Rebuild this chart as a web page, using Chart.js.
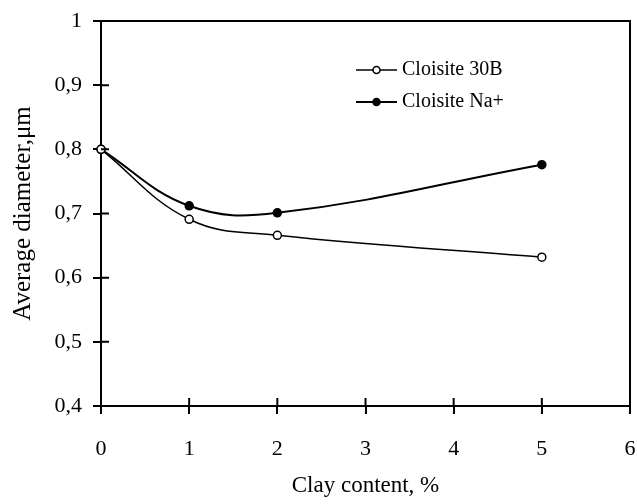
<!DOCTYPE html>
<html>
<head>
<meta charset="utf-8">
<script src="https://cdn.jsdelivr.net/npm/chart.js@4.4.1/dist/chart.umd.min.js"></script>
<style>
  html, body { margin: 0; padding: 0; background: #fff; }
  #wrap { width: 637px; height: 504px; }
</style>
</head>
<body>
<div id="wrap"><canvas id="chart" width="637" height="504"></canvas></div>
<script>
// clay content (%) and average particle diameter (um)
const clayContent = [0, 1, 2, 5];
const cloisite30B = [0.80, 0.691, 0.666, 0.632];
const cloisiteNa = [0.80, 0.712, 0.701, 0.776];
const seriesNames = ['Cloisite 30B', 'Cloisite Na+'];
const xTitle = 'Clay content, %';
const yTitle = 'Average diameter,\u03bcm';

const serif = '"Liberation Serif", "Times New Roman", serif';

function pts(ys) {
  return clayContent.map((x, i) => ({x: x, y: ys[i]}));
}

// comma decimal like the original axis
function commaFmt(v) {
  if (Math.abs(v - Math.round(v)) < 1e-9) return String(Math.round(v));
  return v.toFixed(1).replace('.', ',');
}

// frame on top/right + ticks poking into the plot
const framePlugin = {
  id: 'frame',
  afterDraw(chart) {
    const {ctx, chartArea: a, scales} = chart;
    ctx.save();
    ctx.strokeStyle = '#000';
    ctx.lineWidth = 2;
    ctx.beginPath();
    ctx.moveTo(a.left, a.top); ctx.lineTo(a.right, a.top);
    ctx.lineTo(a.right, a.bottom);
    scales.y.ticks.forEach(t => {
      const py = scales.y.getPixelForValue(t.value);
      ctx.moveTo(a.left, py); ctx.lineTo(a.left + 8, py);
    });
    scales.x.ticks.forEach(t => {
      const px = scales.x.getPixelForValue(t.value);
      ctx.moveTo(px, a.bottom); ctx.lineTo(px, a.bottom - 8);
    });
    ctx.stroke();
    ctx.restore();
  }
};

// legend: short line with the marker in the middle, text to the right
const legendPlugin = {
  id: 'lineLegend',
  afterDraw(chart) {
    const {ctx} = chart;
    const x0 = 356, x1 = 397, rows = [70, 102];
    ctx.save();
    ctx.font = '20px ' + serif;
    ctx.textBaseline = 'middle';
    ctx.fillStyle = '#000';
    chart.data.datasets.forEach((ds, i) => {
      const y = rows[i];
      ctx.strokeStyle = '#000';
      ctx.lineWidth = ds.borderWidth;
      ctx.beginPath(); ctx.moveTo(x0, y); ctx.lineTo(x1, y); ctx.stroke();
      ctx.beginPath();
      ctx.arc((x0 + x1) / 2, y, ds.pointRadius - 0.5, 0, Math.PI * 2);
      ctx.fillStyle = ds.pointBackgroundColor;
      ctx.fill();
      ctx.lineWidth = 1.5;
      ctx.stroke();
      ctx.fillStyle = '#000';
      ctx.fillText(ds.label, x1 + 5, y);
    });
    ctx.restore();
  }
};

new Chart(document.getElementById('chart'), {
  type: 'line',
  data: {
    datasets: [
      {
        label: seriesNames[0], data: pts(cloisite30B),
        borderColor: '#000', borderWidth: 1.5, tension: 0.4,
        pointRadius: 4, pointBackgroundColor: '#fff', pointBorderColor: '#000', pointBorderWidth: 1.5,
        clip: false
      },
      {
        label: seriesNames[1], data: pts(cloisiteNa),
        borderColor: '#000', borderWidth: 2, tension: 0.4,
        pointRadius: 4, pointBackgroundColor: '#000', pointBorderColor: '#000', pointBorderWidth: 1.5,
        clip: false
      }
    ]
  },
  options: {
    responsive: false,
    animation: false,
    layout: { padding: { top: 21, right: 7, left: 0, bottom: 0 } },
    plugins: { legend: { display: false }, tooltip: { enabled: false } },
    scales: {
      x: {
        type: 'linear', min: 0, max: 6,
        afterFit: s => { s.height = 98; s.paddingLeft = 0; s.paddingRight = 0; },
        ticks: { stepSize: 1, padding: 22, color: '#000', font: { family: serif, size: 22 } },
        grid: { drawOnChartArea: false, drawTicks: true, tickLength: 8, color: '#000', lineWidth: 2 },
        border: { display: true, color: '#000', width: 2 },
        title: { display: true, text: xTitle, color: '#000', font: { family: serif, size: 23 }, padding: { bottom: 4, top: 0 } }
      },
      y: {
        min: 0.4, max: 1,
        afterFit: s => { s.width = 101; s.paddingTop = 0; s.paddingBottom = 0; },
        ticks: { stepSize: 0.1, padding: 11, color: '#000', callback: v => commaFmt(v), font: { family: serif, size: 22 } },
        grid: { drawOnChartArea: false, drawTicks: true, tickLength: 8, color: '#000', lineWidth: 2 },
        border: { display: true, color: '#000', width: 2 },
        title: { display: true, text: yTitle, color: '#000', font: { family: serif, size: 25 }, padding: { top: 8, bottom: 0 } }
      }
    }
  },
  plugins: [framePlugin, legendPlugin]
});
</script>
</body>
</html>
